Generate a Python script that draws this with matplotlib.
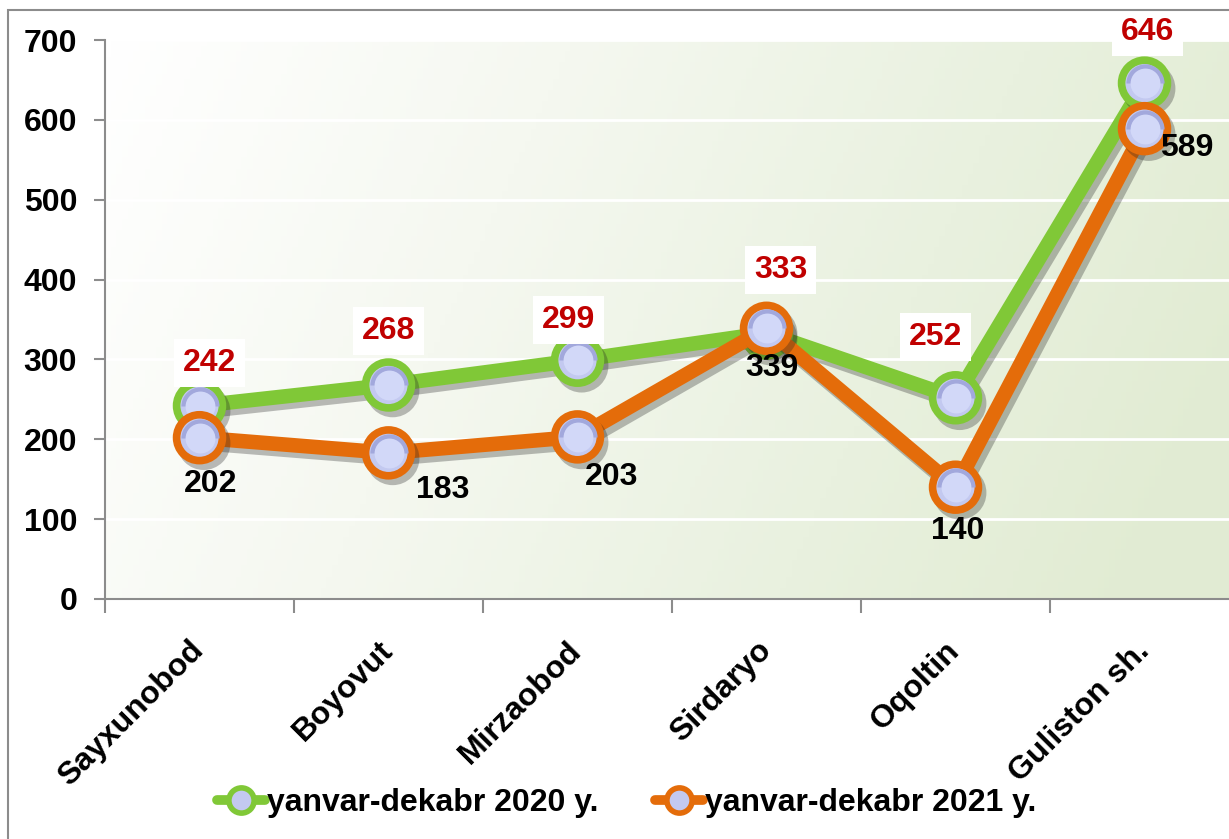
import numpy as np
import matplotlib
matplotlib.use("Agg")
import matplotlib.pyplot as plt
import matplotlib.patheffects as pe
from matplotlib.colors import LinearSegmentedColormap
from matplotlib.patches import Rectangle

categories = ["Sayxunobod", "Boyovut", "Mirzaobod", "Sirdaryo", "Oqoltin", "Guliston sh."]
series_2020 = [242, 268, 299, 333, 252, 646]
series_2021 = [202, 183, 203, 339, 140, 589]
label_2020 = "yanvar-dekabr 2020 y."
label_2021 = "yanvar-dekabr 2021 y."
yticks = [0, 100, 200, 300, 400, 500, 600, 700]

# label offsets in pixels (style)
off_2020 = [(10, 43), (0, 54), (-9, 40), (14, 63), (-20, 61), (3, 51)]
off_2021 = [(11, -46), (54, -37), (34, -40), (5, -40), (2, -44), (42, -19)]

GREEN = "#80c837"
ORANGE = "#e46c0a"
RED = "#c00000"
FACE = "#c3c9f0"

plt.rcParams['font.family'] = ['Liberation Sans', 'DejaVu Sans']
plt.rcParams['font.weight'] = 'bold'

W, H = 1229, 839
fig = plt.figure(figsize=(W / 100, H / 100), dpi=100)
fig.patch.set_facecolor("white")

# outer chart border (left and top visible)
fig.patches.append(Rectangle((8 / W, -0.1), 1.2, (H - 10) / H + 0.1, transform=fig.transFigure,
                             fill=False, edgecolor="#8c8c8c", linewidth=1.5, zorder=0))

ax_left = 105 / W
ax_bottom = (H - 599) / H
ax_w = 1134 / W
ax_h = (599 - 40) / H
ax = fig.add_axes([ax_left, ax_bottom, ax_w, ax_h])

x = np.arange(len(categories))
ax.set_xlim(-0.5, len(categories) - 0.5)
ax.set_ylim(0, 700)

# gradient background
nx, ny = 200, 100
gx = np.linspace(0, 1, nx)
gy = np.linspace(0, 1, ny)
GX, GY = np.meshgrid(gx, gy)
grad = np.clip(0.9 * GX + 0.2 * GY, 0, 1)
cmap = LinearSegmentedColormap.from_list("bg", ["#ffffff", "#f5f8f0", "#e9f1df", "#dfeacf"])
ax.imshow(grad, extent=[0, 1, 0, 1], transform=ax.transAxes, cmap=cmap, aspect="auto",
          origin="upper", zorder=0, vmin=0, vmax=1.1)

for t in yticks[1:]:
    ax.axhline(t, color="white", linewidth=2, zorder=1)

shadow = [pe.SimpleLineShadow(offset=(3, -4), shadow_color="#222222", alpha=0.3), pe.Normal()]

ms = 33
mew = 5.5
l1, = ax.plot(x, series_2020, color=GREEN, linewidth=10.5, marker="o", markersize=ms,
              markerfacecolor=FACE, markeredgecolor=GREEN, markeredgewidth=mew,
              zorder=3, path_effects=shadow, label=label_2020, solid_capstyle="round")
l2, = ax.plot(x, series_2021, color=ORANGE, linewidth=10.5, marker="o", markersize=ms,
              markerfacecolor=FACE, markeredgecolor=ORANGE, markeredgewidth=mew,
              zorder=4, path_effects=shadow, label=label_2021, solid_capstyle="round")

# gradient hint on marker faces
for vals, z in ((series_2020, 3.5), (series_2021, 4.5)):
    ax.plot(x, vals, linestyle="none", marker="o", markersize=ms - mew,
            markerfacecolor="#a2a8dc", markeredgewidth=0, fillstyle="top", zorder=z)
    ax.plot(x, vals, linestyle="none", marker="o", markersize=ms - mew - 6,
            markerfacecolor="#d2d8f8", markeredgewidth=0, zorder=z + 0.1)

FS = 23
for xi, v, (dx, dy) in zip(x, series_2020, off_2020):
    ax.annotate(str(v), (xi, v), xytext=(dx * 0.72, dy * 0.72), textcoords="offset points",
                ha="center", va="center", color=RED, fontsize=FS, fontweight="bold",
                bbox=dict(boxstyle="square,pad=0.28", facecolor="white", edgecolor="none"),
                zorder=6)
for xi, v, (dx, dy) in zip(x, series_2021, off_2021):
    ax.annotate(str(v), (xi, v), xytext=(dx * 0.72, dy * 0.72), textcoords="offset points",
                ha="center", va="center", color="black", fontsize=FS, fontweight="bold",
                zorder=6)

# axes styling
for s in ["top", "right"]:
    ax.spines[s].set_visible(False)
for s in ["left", "bottom"]:
    ax.spines[s].set_color("#8c8c8c")
    ax.spines[s].set_linewidth(1.5)
    ax.spines[s].set_zorder(2)

ax.set_yticks(yticks)
ax.set_yticklabels([str(t) for t in yticks], fontsize=FS, fontweight="bold")
ax.tick_params(axis="y", direction="out", length=8, width=1.5, color="#8c8c8c", pad=12)

ax.set_xticks(np.arange(-0.5, len(categories), 1), minor=False)
ax.set_xticklabels([])
ax.tick_params(axis="x", which="major", direction="out", length=10, width=1.5, color="#8c8c8c")
ax.set_xticks(x, minor=True)
ax.set_xticklabels(categories, minor=True, rotation=45, ha="right", va="center",
                   rotation_mode="anchor", fontsize=FS, fontweight="bold")
ax.tick_params(axis="x", which="minor", length=0, pad=34)

leg = fig.legend(handles=[l1, l2], loc="center", bbox_to_anchor=(0.51, (H - 803) / H),
                 ncol=2, frameon=False, fontsize=FS, markerscale=0.55, handlelength=1.5,
                 handletextpad=0.08, columnspacing=1.75)
for h in leg.legend_handles:
    h.set_linewidth(7)
    h.set_path_effects([])
    h.set_markeredgewidth(4)

fig.savefig("out.png", dpi=100)
